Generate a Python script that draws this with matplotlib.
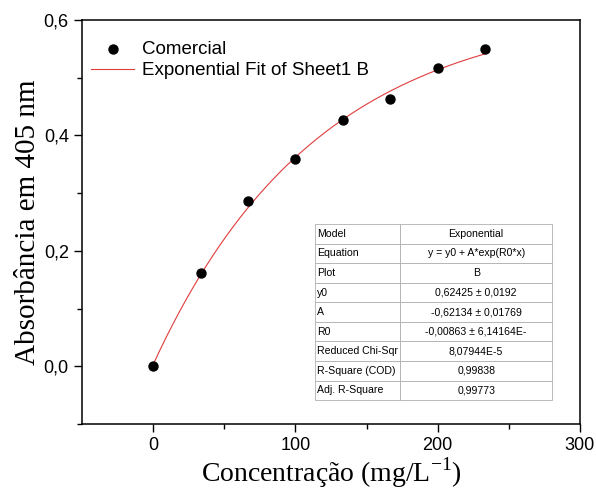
import numpy as np
import matplotlib
matplotlib.use("Agg")
import matplotlib.pyplot as plt

# dados medidos (Comercial)
conc = [0, 33.33, 66.67, 100, 133.33, 166.67, 200, 233.33]
absorb = [0.0, 0.161, 0.286, 0.360, 0.426, 0.463, 0.516, 0.549]

# parametros do ajuste exponencial
y0 = 0.62425
A = -0.62134
R0 = -0.00863

xticks = [0, 100, 200, 300]
xtick_labels = ["0", "100", "200", "300"]
yticks = [0.0, 0.2, 0.4, 0.6]
ytick_labels = ["0,0", "0,2", "0,4", "0,6"]

table_rows = [
    ["Model", "Exponential"],
    ["Equation", "y = y0 + A*exp(R0*x)"],
    ["Plot", "B"],
    ["y0", "0,62425 \u00b1 0,0192"],
    ["A", "-0,62134 \u00b1 0,01769"],
    ["R0", "-0,00863 \u00b1 6,14164E-"],
    ["Reduced Chi-Sqr", "8,07944E-5"],
    ["R-Square (COD)", "0,99838"],
    ["Adj. R-Square", "0,99773"],
]

fig = plt.figure(figsize=(5.96, 4.9), dpi=100)
ax = fig.add_axes([0.1376, 0.1347, 0.8354, 0.8245])

xfit = np.linspace(0, max(conc), 200)
yfit = y0 + A * np.exp(R0 * xfit)

ax.scatter(conc, absorb, s=42, color="black", zorder=3, label="Comercial")
ax.plot(xfit, yfit, color="#e03c3c", lw=0.8, label="Exponential Fit of Sheet1 B")

ax.set_xlim(-50, 300)
ax.set_ylim(-0.1, 0.6)
ax.set_xticks(xticks)
ax.set_xticklabels(xtick_labels, family="Liberation Sans", fontsize=13)
ax.set_yticks(yticks)
ax.set_yticklabels(ytick_labels, family="Liberation Sans", fontsize=13)
ax.set_xticks([50, 150, 250], minor=True)
ax.set_yticks([-0.1, 0.1, 0.3, 0.5], minor=True)
ax.tick_params(which="major", direction="out", length=6, width=1)
ax.tick_params(which="minor", direction="out", length=3.5, width=1)
for s in ax.spines.values():
    s.set_linewidth(1.1)

ax.set_xlabel("Concentração (mg/L$^{\\mathregular{-1}}$)", family="Liberation Serif",
              fontsize=20, labelpad=1)
ax.set_ylabel("Absorbância em 405 nm", family="Liberation Serif", fontsize=21, labelpad=2)

leg = ax.legend(loc="upper left", frameon=False, prop={"family": "Liberation Sans", "size": 13.5},
                handlelength=2.3, handletextpad=0.4, borderaxespad=0.0,
                labelspacing=0.2, bbox_to_anchor=(0.003, 0.966))

tab = ax.table(cellText=table_rows, cellLoc="center", bbox=[0.468, 0.059, 0.476, 0.436],
               colWidths=[0.36, 0.64])
tab.auto_set_font_size(False)
tab.set_fontsize(7.6)
for (r, c), cell in tab.get_celld().items():
    cell.set_edgecolor("#b0b0b0")
    cell.set_linewidth(0.6)
    cell.get_text().set_family("Liberation Sans")
    if c == 0:
        cell.set_text_props(ha="left")
        cell._loc = "left"
        cell.PAD = 0.025

fig.savefig("out.png", dpi=100)
